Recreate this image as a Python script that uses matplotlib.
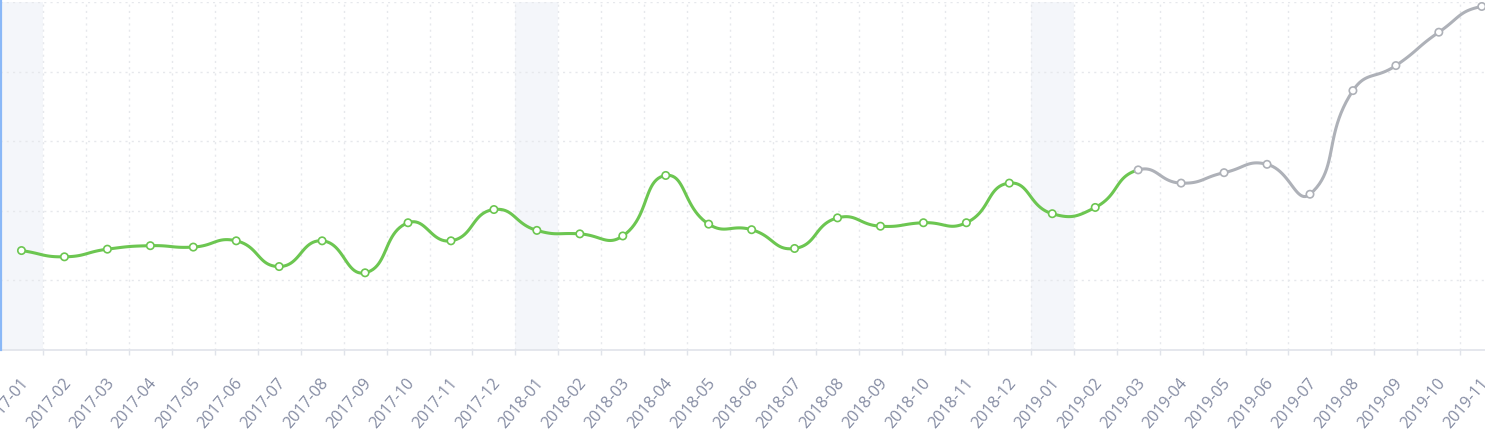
import numpy as np
import matplotlib
matplotlib.use("Agg")
import matplotlib.pyplot as plt
import matplotlib.transforms as mtransforms
from matplotlib.lines import Line2D

# Monatswerte (Kategorien der x-Achse)
months = ["2017-01", "2017-02", "2017-03", "2017-04", "2017-05", "2017-06",
          "2017-07", "2017-08", "2017-09", "2017-10", "2017-11", "2017-12",
          "2018-01", "2018-02", "2018-03", "2018-04", "2018-05", "2018-06",
          "2018-07", "2018-08", "2018-09", "2018-10", "2018-11", "2018-12",
          "2019-01", "2019-02", "2019-03", "2019-04", "2019-05", "2019-06",
          "2019-07", "2019-08", "2019-09", "2019-10", "2019-11", "2019-12"]
values = [143, 134, 145, 150, 148, 157, 120, 157, 111, 183, 157, 202,
          172, 167, 164, 251, 181, 173, 146, 190, 178, 183, 183, 240,
          196, 205, 259, 240, 255, 267, 224, 373, 409, 457, 494, 481]
grey_from = "2019-03"          # ab hier grau
highlight = ["2017-01", "2018-01", "2019-01"]   # hinterlegte Spalten

GREEN = "#6cc651"
GREY = "#aeb1b8"


def smooth_segments(pts, smooth=0.5, steps=24):
    # Bezier-Glaettung wie bei echarts (smooth: true)
    n = len(pts)
    c_in = np.zeros_like(pts)
    c_out = np.zeros_like(pts)
    for i in range(n):
        prev = pts[max(i - 1, 0)]
        nxt = pts[min(i + 1, n - 1)]
        v = nxt - prev
        d0 = np.hypot(*(pts[i] - prev))
        d1 = np.hypot(*(nxt - pts[i]))
        r = d1 / (d0 + d1) if d0 + d1 > 0 else 0.5
        c_out[i] = pts[i] + v * smooth * r
        c_in[i] = pts[i] - v * smooth * (1 - r)
    t = np.linspace(0, 1, steps)[:, None]
    segs = []
    for i in range(n - 1):
        p0, p1, p2, p3 = pts[i], c_out[i], c_in[i + 1], pts[i + 1]
        segs.append((1 - t) ** 3 * p0 + 3 * (1 - t) ** 2 * t * p1
                    + 3 * (1 - t) * t ** 2 * p2 + t ** 3 * p3)
    return segs


def main():
    plt.rcParams["font.family"] = ["Open Sans", "DejaVu Sans"]
    W, H = 1485, 445
    fig = plt.figure(figsize=(W / 100, H / 100), dpi=100)
    cat_w = 42.95
    ax = fig.add_axes([0, 95 / H, len(months) * cat_w / W, 347.7 / H])
    x = np.arange(len(months))
    ax.set_xlim(-0.5, len(months) - 0.5)
    ax.set_ylim(0, 500)

    # hinterlegte Januar-Spalten
    for m in highlight:
        i = months.index(m)
        ax.axvspan(i - 0.5, i + 0.5, color="#f4f6fa", zorder=0, lw=0)

    # Gitter
    ax.set_yticks([100, 200, 300, 400, 500])
    ax.set_xticks(x)
    ax.set_xticks(np.arange(0.5, len(months) - 0.5, 1), minor=True)
    ax.grid(axis="y", which="major", color="#e6e8ec", lw=1, ls=(0, (1.5, 3)))
    ax.grid(axis="x", which="minor", color="#e6e8ec", lw=1, ls=(0, (1.5, 3)))
    ax.set_axisbelow(True)
    ax.tick_params(axis="y", length=0, labelleft=False)
    ax.tick_params(axis="x", which="major", length=0, pad=22)
    ax.tick_params(axis="x", which="minor", length=3.6, width=1, color="#e0e3ea")
    ax.set_xticklabels(months, rotation=50, ha="right", va="center",
                       rotation_mode="anchor", fontsize=11.6, color="#858ca3")
    shift = mtransforms.ScaledTranslation(4 / 100, 0, fig.dpi_scale_trans)
    for lab in ax.get_xticklabels():
        lab.set_transform(lab.get_transform() + shift)
    for s in ["top", "right", "left"]:
        ax.spines[s].set_visible(False)
    ax.spines["bottom"].set_color("#e0e3ea")
    ax.spines["bottom"].set_linewidth(1.2)

    # geglaettete Linie, in Pixelkoordinaten berechnet
    fig.canvas.draw()
    disp = ax.transData.transform(np.column_stack([x, values]))
    inv = ax.transData.inverted()
    split = months.index(grey_from)
    for i, seg in enumerate(smooth_segments(disp)):
        d = inv.transform(seg)
        col = GREEN if i < split else GREY
        ax.plot(d[:, 0], d[:, 1], color=col, lw=2.2, solid_capstyle="round",
                clip_on=True, zorder=3)

    colors = [GREEN if i < split else GREY for i in range(len(months))]
    ax.scatter(x, values, s=28, facecolor="white", edgecolor=colors,
               linewidths=1.2, zorder=4)

    # blaue Linie links
    fig.add_artist(Line2D([1 / W, 1 / W], [95 / H, 1], color="#8ab8f7", lw=1.6))

    fig.savefig("out.png", dpi=100)


if __name__ == "__main__":
    main()
